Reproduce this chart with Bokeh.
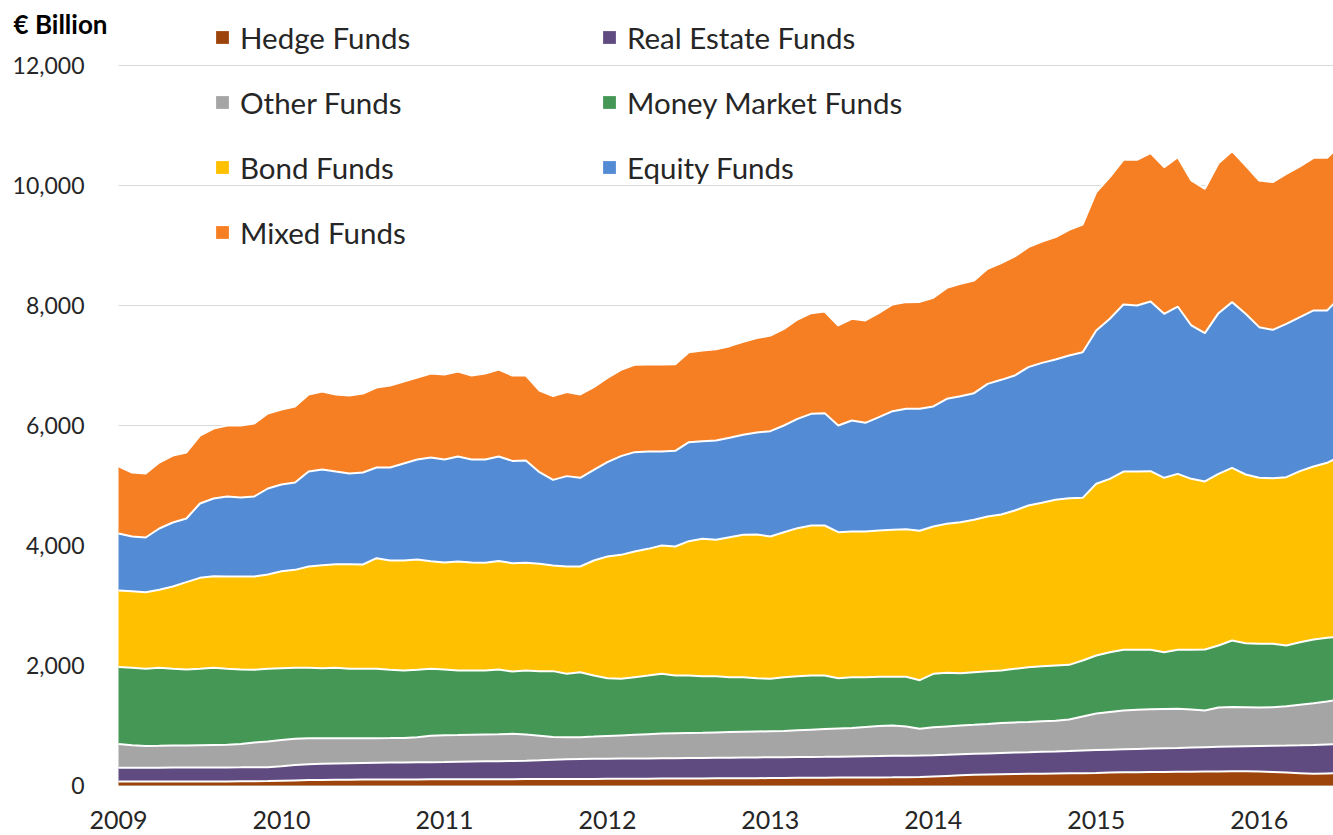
import numpy as np
import pandas as pd
from bokeh.plotting import figure
from bokeh.models import (ColumnDataSource, Range1d, FixedTicker, NumeralTickFormatter,
                          Legend, LegendItem, Label)
from bokeh.embed import file_html
from bokeh.resources import INLINE

months = pd.date_range("2009-01-01", periods=91, freq="MS")
years = ["2009", "2010", "2011", "2012", "2013", "2014", "2015", "2016"]
y_ticks = [0, 2000, 4000, 6000, 8000, 10000, 12000]
unit_label = "€ Billion"

hedge = [65, 65, 65, 65, 65, 65, 66, 67, 68, 70, 72, 75,
         80, 85, 90, 92, 94, 96, 98, 99, 100, 101, 102, 103,
         104, 105, 105, 106, 106, 106, 107, 107, 108, 108, 109, 110,
         111, 112, 113, 114, 115, 116, 117, 118, 119, 120, 121, 122,
         124, 126, 128, 130, 131, 132, 133, 134, 135, 136, 138, 140,
         150, 160, 170, 180, 185, 188, 191, 194, 197, 200, 203, 206,
         210, 215, 220, 222, 224, 226, 228, 230, 232, 234, 236, 238,
         235, 225, 215, 205, 195, 200, 205]
real_estate = [230, 230, 231, 232, 233, 234, 234, 234, 234, 233, 233, 231,
               240, 255, 265, 270, 274, 276, 278, 281, 283, 284, 285, 286,
               288, 291, 295, 298, 300, 302, 305, 313, 322, 330, 333, 334,
               335, 336, 337, 338, 339, 340, 341, 342, 343, 344, 345, 346,
               346, 346, 346, 346, 347, 349, 351, 353, 355, 358, 359, 360,
               355, 352, 350, 348, 350, 354, 358, 361, 365, 368, 372, 377,
               380, 382, 384, 388, 391, 394, 397, 402, 406, 410, 414, 417,
               425, 438, 451, 465, 480, 483, 485]
other = [396, 377, 364, 365, 367, 369, 372, 375, 378, 387, 413, 429,
         440, 438, 434, 427, 421, 417, 413, 409, 407, 407, 418, 441,
         444, 444, 445, 446, 449, 453, 438, 410, 380, 368, 364, 371,
         379, 387, 395, 403, 411, 416, 418, 420, 423, 426, 429, 432,
         435, 438, 446, 454, 462, 469, 476, 488, 500, 506, 488, 444,
         465, 473, 480, 484, 490, 498, 503, 505, 508, 512, 525, 567,
         610, 628, 646, 652, 655, 655, 655, 633, 612, 656, 660, 650,
         640, 642, 654, 675, 695, 717, 750]
money_market = [1282, 1289, 1284, 1299, 1279, 1265, 1272, 1285, 1264, 1243, 1210, 1209,
                1196, 1183, 1172, 1167, 1172, 1155, 1155, 1155, 1138, 1125, 1123, 1114,
                1097, 1077, 1072, 1067, 1078, 1039, 1067, 1076, 1096, 1055, 1083, 1018,
                964, 943, 961, 978, 996, 961, 957, 942, 937, 916, 911, 889,
                873, 896, 902, 903, 893, 839, 846, 831, 821, 811, 826, 811,
                891, 893, 872, 877, 881, 877, 892, 912, 919, 920, 911, 933,
                967, 997, 1011, 999, 991, 947, 981, 996, 1017, 1033, 1107, 1067,
                1061, 1056, 1013, 1044, 1063, 1061, 1045]
bond = [1278, 1277, 1278, 1300, 1373, 1456, 1517, 1528, 1539, 1550, 1555, 1573,
        1616, 1633, 1689, 1716, 1728, 1745, 1739, 1845, 1822, 1833, 1839, 1795,
        1784, 1816, 1800, 1794, 1807, 1805, 1794, 1788, 1761, 1789, 1761, 1917,
        2028, 2066, 2094, 2111, 2139, 2150, 2239, 2289, 2272, 2333, 2372, 2394,
        2372, 2416, 2467, 2500, 2500, 2433, 2427, 2427, 2439, 2450, 2461, 2490,
        2456, 2483, 2517, 2539, 2577, 2600, 2639, 2695, 2722, 2761, 2778, 2711,
        2861, 2889, 2972, 2972, 2978, 2906, 2933, 2850, 2800, 2861, 2877, 2811,
        2767, 2761, 2806, 2850, 2884, 2917, 3005]
equity = [950, 912, 911, 1022, 1066, 1061, 1239, 1294, 1334, 1317, 1334, 1433,
          1445, 1456, 1583, 1595, 1544, 1511, 1534, 1511, 1550, 1617, 1666, 1728,
          1716, 1750, 1716, 1722, 1743, 1705, 1706, 1528, 1427, 1506, 1478, 1511,
          1572, 1645, 1656, 1623, 1567, 1595, 1650, 1628, 1656, 1655, 1666, 1700,
          1756, 1778, 1822, 1861, 1873, 1778, 1850, 1811, 1889, 1978, 2006, 2033,
          2000, 2083, 2100, 2111, 2211, 2244, 2250, 2305, 2333, 2339, 2378, 2428,
          2555, 2667, 2784, 2767, 2828, 2733, 2789, 2556, 2472, 2678, 2762, 2678,
          2511, 2472, 2555, 2567, 2600, 2539, 2660]
mixed = [1117, 1067, 1067, 1100, 1117, 1100, 1133, 1167, 1183, 1200, 1216, 1250,
         1250, 1267, 1284, 1300, 1284, 1300, 1316, 1333, 1367, 1366, 1367, 1400,
         1417, 1417, 1400, 1434, 1450, 1423, 1416, 1361, 1395, 1400, 1389, 1378,
         1405, 1439, 1455, 1450, 1450, 1444, 1500, 1511, 1522, 1528, 1550, 1573,
         1594, 1611, 1656, 1678, 1694, 1667, 1695, 1706, 1739, 1778, 1778, 1782,
         1811, 1850, 1872, 1878, 1917, 1945, 1984, 2000, 2023, 2039, 2094, 2128,
         2306, 2361, 2411, 2428, 2472, 2445, 2489, 2416, 2405, 2500, 2516, 2472,
         2444, 2462, 2500, 2511, 2544, 2544, 2530]

names = ["Hedge Funds", "Real Estate Funds", "Other Funds", "Money Market Funds",
         "Bond Funds", "Equity Funds", "Mixed Funds"]
series = [hedge, real_estate, other, money_market, bond, equity, mixed]
colors = ["#9C440C", "#5F4B80", "#A5A5A5", "#449755", "#FFC000", "#538BD5", "#F67F24"]

FONT = "Lato"
TXT = "#262626"

x = np.arange(len(months))
data = {"x": x}
for n, s in zip(names, series):
    data[n] = s
src = ColumnDataSource(data)

X_START, X_END = -8.69, 89.47
Y_START, Y_TOP = -250, 13083
p = figure(width=1333, height=835, output_backend="svg", toolbar_location=None,
           x_range=Range1d(X_START, X_END), y_range=Range1d(Y_START, Y_TOP),
           min_border_left=0, min_border_right=0, min_border_top=0,
           min_border_bottom=35)
p.outline_line_color = None
p.background_fill_color = "white"
p.border_fill_color = "white"

# horizontal gridlines, starting at the first month like the original chart
p.xgrid.grid_line_color = None
p.ygrid.grid_line_color = None
p.segment(x0=[0] * len(y_ticks), x1=[X_END] * len(y_ticks), y0=y_ticks, y1=y_ticks,
          line_color="#D9D9D9", line_width=1, level="underlay")

rs = p.varea_stack(stackers=names, x="x", color=colors, source=src)

cum = np.cumsum(np.array(series, dtype=float), axis=0)
for row in cum:
    p.line(x, row, line_color="white", line_width=2)

# y axis drawn at the first month
p.yaxis.fixed_location = 0
p.yaxis.ticker = FixedTicker(ticks=y_ticks)
p.yaxis.formatter = NumeralTickFormatter(format="0,0")
p.yaxis.axis_line_color = None
p.yaxis.major_tick_line_color = None
p.yaxis.minor_tick_line_color = None
p.yaxis.major_label_standoff = 28
p.yaxis.major_label_text_font = FONT
p.yaxis.major_label_text_font_size = "23px"
p.yaxis.major_label_text_color = TXT

p.xaxis.ticker = FixedTicker(ticks=[12 * i for i in range(len(years))])
p.xaxis.major_label_overrides = {12 * i: y for i, y in enumerate(years)}
p.xaxis.axis_line_color = None
p.xaxis.major_tick_line_color = None
p.xaxis.minor_tick_line_color = None
p.xaxis.major_label_standoff = 4
p.xaxis.major_label_text_font = FONT
p.xaxis.major_label_text_font_size = "25px"
p.xaxis.major_label_text_color = TXT

p.add_layout(Label(x=13, y=777, x_units="screen", y_units="screen", text=unit_label,
                   text_font=FONT, text_font_size="26px", text_font_style="bold",
                   text_color="black", text_baseline="middle"))

# legend in two columns
col1 = [0, 2, 4, 6]
col2 = [1, 3, 5]
common = dict(orientation="vertical", padding=0, margin=0, spacing=25,
              label_height=40, glyph_height=16, glyph_width=16, label_standoff=10,
              label_text_font=FONT, label_text_font_size="29.5px", label_text_color=TXT,
              background_fill_alpha=0, border_line_alpha=0)
leg1 = Legend(items=[LegendItem(label=names[i], renderers=[rs[i]]) for i in col1],
              location=(214, 548), **common)
leg2 = Legend(items=[LegendItem(label=names[i], renderers=[rs[i]]) for i in col2],
              location=(601, 613), **common)
p.add_layout(leg1)
p.add_layout(leg2)

open("out.html", "w").write(file_html(p, INLINE))
